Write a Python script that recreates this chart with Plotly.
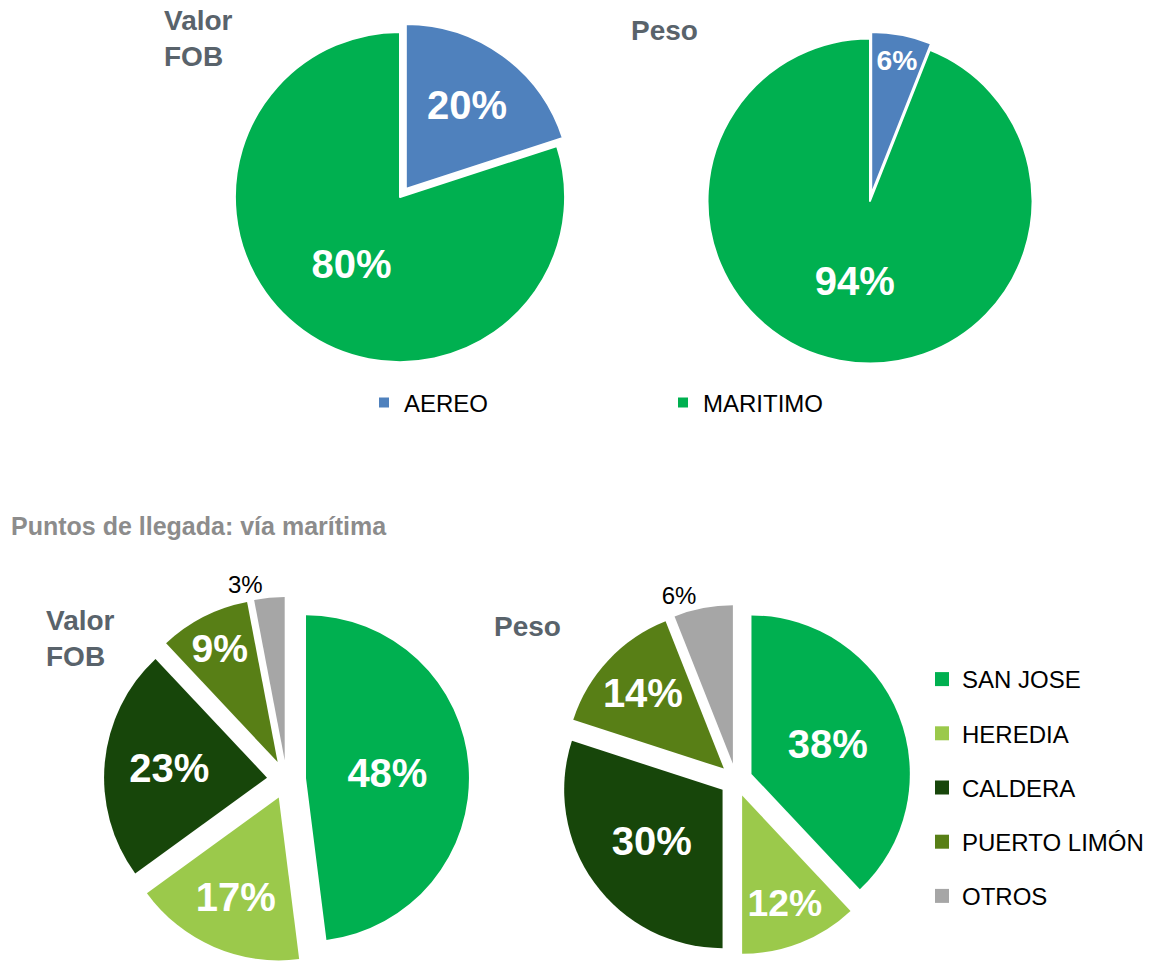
import plotly.graph_objects as go

W, H = 1161, 962

# datos
modos = ["AEREO", "MARITIMO"]
modo_colores = ["#4F81BD", "#00B050"]
fob_modo = [20, 80]
peso_modo = [6, 94]

puntos = ["SAN JOSE", "HEREDIA", "CALDERA", "PUERTO LIMÓN", "OTROS"]
punto_colores = ["#00B050", "#9BC94B", "#17460A", "#587F16", "#A6A6A6"]
fob_puntos = [48, 17, 23, 9, 3]
peso_puntos = [38, 12, 30, 14, 6]

FONT = "Liberation Sans, Arial, sans-serif"


def box(x0, y0, x1, y1):
    # caja en pixeles -> dominio en papel
    return dict(x=[x0 / W, x1 / W], y=[max(0, 1 - y1 / H), min(1, 1 - y0 / H)])


def px(x, y):
    return x / W, 1 - y / H


fig = go.Figure()

# vía de transporte
fig.add_trace(go.Pie(
    labels=modos, values=fob_modo, sort=False, direction="clockwise",
    marker=dict(colors=modo_colores, line=dict(color="white", width=2)),
    pull=[0.06, 0], domain=box(225, 22, 575, 372),
    texttemplate="%{percent:.0%}", textposition="inside",
    insidetextorientation="horizontal",
    insidetextfont=dict(family=FONT, size=40, color="white", weight="bold"),
    legend="legend", hoverinfo="label+percent",
))
fig.add_trace(go.Pie(
    labels=modos, values=peso_modo, sort=False, direction="clockwise",
    marker=dict(colors=modo_colores, line=dict(color="white", width=2)),
    pull=[0.04, 0], domain=box(701, 32, 1039, 370),
    texttemplate="%{percent:.0%}", textposition="inside",
    insidetextorientation="horizontal",
    insidetextfont=dict(family=FONT, size=[30, 40], color="white", weight="bold"),
    legend="legend", showlegend=False, hoverinfo="label+percent",
))

# puntos de llegada
pos = ["inside", "inside", "inside", "inside", "outside"]
fig.add_trace(go.Pie(
    labels=puntos, values=fob_puntos, sort=False, direction="clockwise",
    marker=dict(colors=punto_colores),
    pull=[0.12] * 5, domain=box(100, 597, 473, 962),
    texttemplate="%{percent:.0%}", textposition=pos,
    insidetextorientation="horizontal",
    insidetextfont=dict(family=FONT, size=40, color="white", weight="bold"),
    outsidetextfont=dict(family=FONT, size=24, color="black"),
    showlegend=False, hoverinfo="label+percent",
))
fig.add_trace(go.Pie(
    labels=puntos, values=peso_puntos, sort=False, direction="clockwise",
    marker=dict(colors=punto_colores),
    pull=[0.105] * 5, domain=box(561, 605, 911, 955),
    texttemplate="%{percent:.0%}", textposition=pos,
    insidetextorientation="horizontal",
    insidetextfont=dict(family=FONT, size=40, color="white", weight="bold"),
    outsidetextfont=dict(family=FONT, size=24, color="black"),
    showlegend=False, hoverinfo="label+percent",
))

# leyenda de puntos (espaciado amplio)
for nombre, color in zip(puntos, punto_colores):
    fig.add_trace(go.Scatter(
        x=[None], y=[None], mode="markers", name=nombre,
        marker=dict(symbol="square", size=14, color=color),
        legend="legend2", legendgroup=nombre, hoverinfo="skip",
    ))

titulos = [
    ("Valor<br>FOB", 162, 3, "#59636B", 28),
    ("Peso", 629, 13, "#59636B", 28),
    ("Puntos de llegada: vía marítima", 9, 510, "#8C8C8C", 25),
    ("Valor<br>FOB", 44, 603, "#59636B", 28),
    ("Peso", 492, 609, "#59636B", 28),
]
for texto, x, y, color, size in titulos:
    ax, ay = px(x, y)
    fig.add_annotation(
        text=texto, x=ax, y=ay, xref="paper", yref="paper",
        xanchor="left", yanchor="top", showarrow=False, align="left",
        font=dict(family=FONT, size=size, color=color, weight="bold"),
    )

lx, ly = px(364, 403)
l2x, l2y = px(922, 657)
fig.update_layout(
    width=W, height=H,
    margin=dict(l=0, r=0, t=0, b=0, autoexpand=False),
    paper_bgcolor="white", plot_bgcolor="white",
    xaxis=dict(visible=False), yaxis=dict(visible=False),
    legend=dict(
        orientation="h", x=lx, y=ly, xanchor="left", yanchor="middle",
        entrywidth=254, font=dict(family=FONT, size=24, color="black"),
    ),
    legend2=dict(
        x=l2x, y=l2y, xanchor="left", yanchor="top",
        traceorder="grouped", tracegroupgap=20,
        font=dict(family=FONT, size=24, color="black"),
    ),
)

fig.write_html(
    "out.html",
    config={"displayModeBar": False},
    post_script="document.body.style.margin='0';",
)
